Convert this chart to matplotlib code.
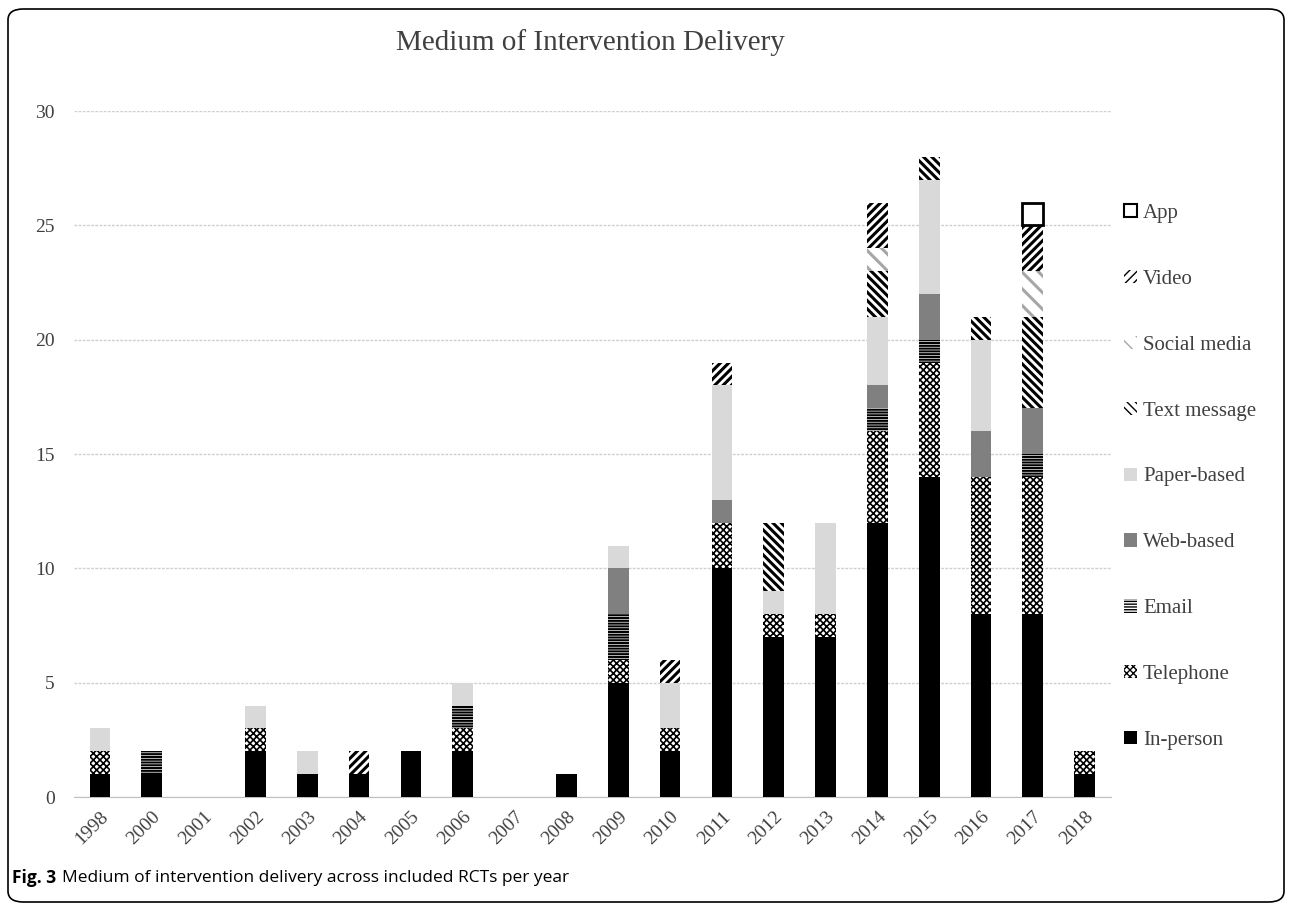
import matplotlib
matplotlib.use("Agg")
import matplotlib.pyplot as plt
from matplotlib.patches import FancyBboxPatch, Patch
import numpy as np

# years and counts per delivery medium (stack order bottom -> top)
years = ['1998', '2000', '2001', '2002', '2003', '2004', '2005', '2006', '2007', '2008',
         '2009', '2010', '2011', '2012', '2013', '2014', '2015', '2016', '2017', '2018']
in_person = [1, 1, 0, 2, 1, 1, 2, 2, 0, 1, 5, 2, 10, 7, 7, 12, 14, 8, 8, 1]
telephone = [1, 0, 0, 1, 0, 0, 0, 1, 0, 0, 1, 1, 2, 1, 1, 4, 5, 6, 6, 1]
email     = [0, 1, 0, 0, 0, 0, 0, 1, 0, 0, 2, 0, 0, 0, 0, 1, 1, 0, 1, 0]
web_based = [0, 0, 0, 0, 0, 0, 0, 0, 0, 0, 2, 0, 1, 0, 0, 1, 2, 2, 2, 0]
paper     = [1, 0, 0, 1, 1, 0, 0, 1, 0, 0, 1, 2, 5, 1, 4, 3, 5, 4, 0, 0]
text_msg  = [0, 0, 0, 0, 0, 0, 0, 0, 0, 0, 0, 0, 0, 3, 0, 2, 1, 1, 4, 0]
social    = [0, 0, 0, 0, 0, 0, 0, 0, 0, 0, 0, 0, 0, 0, 0, 1, 0, 0, 2, 0]
video     = [0, 0, 0, 0, 0, 1, 0, 0, 0, 0, 0, 1, 1, 0, 0, 2, 0, 0, 2, 0]
app       = [0, 0, 0, 0, 0, 0, 0, 0, 0, 0, 0, 0, 0, 0, 0, 0, 0, 0, 1, 0]

# label, values, face, edge, hatch, hatch linewidth
series = [
    ('In-person', in_person, 'black', 'black', None, 1.0),
    ('Telephone', telephone, 'white', 'black', 'xxxxx', 1.2),
    ('Email', email, 'white', 'black', '------', 1.5),
    ('Web-based', web_based, '#808080', '#808080', None, 1.0),
    ('Paper-based', paper, '#d9d9d9', '#d9d9d9', None, 1.0),
    ('Text message', text_msg, 'white', 'black', '\\\\\\\\', 2.2),
    ('Social media', social, 'white', '#a6a6a6', '\\\\', 2.2),
    ('Video', video, 'white', 'black', '////', 2.2),
    ('App', app, 'white', 'black', None, 1.0),
]

serif = ['Liberation Serif', 'DejaVu Serif']

fig = plt.figure(figsize=(12.9, 9.08), dpi=100)
ax = fig.add_axes([0.0574, 0.1222, 0.8035, 0.7555])

x = np.arange(len(years))
bottom = np.zeros(len(years))
handles = []
for label, vals, fc, ec, hatch, hlw in series:
    vals = np.array(vals, dtype=float)
    lw = 2.0 if label == 'App' else 0
    with plt.rc_context({'hatch.linewidth': hlw, 'hatch.color': ec}):
        bars = ax.bar(x, vals, 0.4, bottom=bottom, color=fc, edgecolor=ec,
                      hatch=hatch, linewidth=lw, zorder=3)
        proxy = Patch(facecolor=fc, edgecolor=ec, hatch=hatch,
                      linewidth=1.5 if label == 'App' else 0, label=label)
    # hide empty segments
    for b, v in zip(bars, vals):
        if v == 0:
            b.set_visible(False)
    bottom += vals
    handles.append(proxy)

ax.set_xlim(-0.5, len(years) - 0.5)
ax.set_ylim(0, 30)
ax.set_yticks(range(0, 31, 5))
ax.yaxis.grid(True, color='#cfcfcf', linestyle=(0, (2, 1)), linewidth=1, zorder=0)
ax.set_axisbelow(True)
for s in ['top', 'right', 'left']:
    ax.spines[s].set_visible(False)
ax.spines['bottom'].set_color('#bfbfbf')
ax.tick_params(length=0, labelsize=14, colors='#404040')
ax.set_xticks(x)
ax.set_xticklabels(years, rotation=45, ha='right', rotation_mode='anchor')
for t in ax.get_xticklabels() + ax.get_yticklabels():
    t.set_family(serif)
ax.tick_params(axis='y', pad=14)
ax.tick_params(axis='x', pad=8)

fig.text(0.458, 0.953, 'Medium of Intervention Delivery', ha='center', va='center',
         fontsize=21, family=serif, color='#404040')

fig.legend(handles[::-1], [s[0] for s in series][::-1], loc='upper left',
           bbox_to_anchor=(0.857, 0.796), frameon=False,
           prop={'family': serif, 'size': 15}, handlelength=0.6, handleheight=0.6,
           handletextpad=0.3, labelspacing=2.25, labelcolor='#404040')

# caption
fig.text(0.009, 0.033, 'Fig. 3', fontsize=12.5, fontweight='bold',
         family=['Open Sans', 'DejaVu Sans'], va='center')
fig.text(0.048, 0.033, 'Medium of intervention delivery across included RCTs per year',
         fontsize=12.5, family=['Open Sans', 'DejaVu Sans'], va='center')

# rounded border round the figure
border = FancyBboxPatch((8 / 1290, 6 / 908), 1276 / 1290, 893 / 908,
                        boxstyle='round,pad=0,rounding_size=0.012',
                        transform=fig.transFigure, fill=False,
                        edgecolor='black', linewidth=1.2)
fig.patches.append(border)

fig.savefig('out.png', dpi=100)
